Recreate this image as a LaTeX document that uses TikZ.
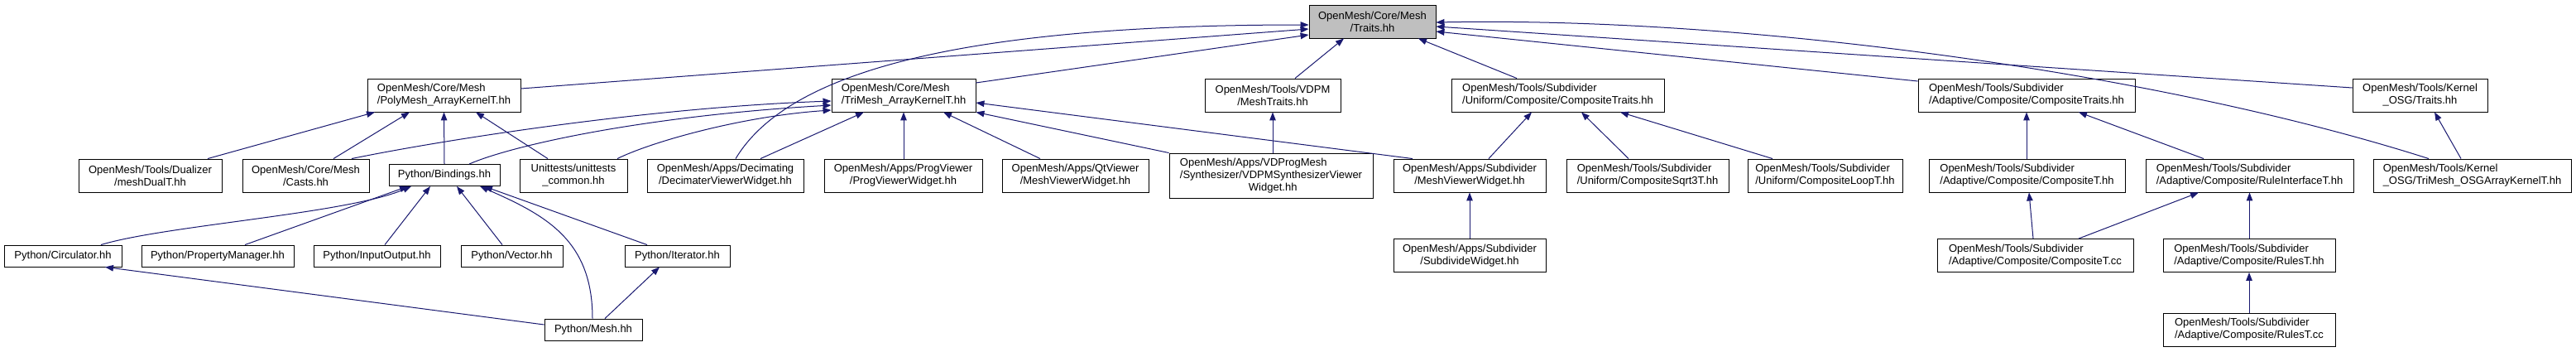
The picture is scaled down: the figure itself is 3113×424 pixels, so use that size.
\documentclass[tikz,border=0pt]{standalone}
\usepackage{fontspec}
\setmainfont{Liberation Sans}
\usetikzlibrary{arrows.meta}
\definecolor{midnightblue}{HTML}{191970}
\newcommand{\filefont}{\fontsize{13}{15}\selectfont}
\tikzset{
  dtip/.tip={Triangle[length=10pt,width=7.5pt]},
  file/.style={draw=black, fill=white, line width=0.9pt, inner sep=0pt, minimum height=40pt, font=\filefont, align=center},
  lfile/.style={file, align=left},
  curfile/.style={file, fill=gray!50},
  dep/.style={draw=midnightblue, line width=1pt, dtip-},
}
\begin{document}
\begin{tikzpicture}[x=1pt, y=-1pt]
  \fill[white] (0,0) rectangle (3113,424);
  \useasboundingbox (0,0) rectangle (3113,424);

  % the header itself
  \node[curfile, minimum width=153pt] (traits) at (1658.5,26) {OpenMesh/Core/Mesh\\/Traits.hh};

  % files including it directly
  \node[lfile, minimum width=185pt] (polymesh) at (536.5,115) {OpenMesh/Core/Mesh\\/PolyMesh\_ArrayKernelT.hh};
  \node[lfile, minimum width=174pt] (trimesh) at (1092,115) {OpenMesh/Core/Mesh\\/TriMesh\_ArrayKernelT.hh};
  \node[file, minimum width=164pt] (vdpmtraits) at (1538,115) {OpenMesh/Tools/VDPM\\/MeshTraits.hh};
  \node[lfile, minimum width=257pt] (unitraits) at (1882.5,115) {OpenMesh/Tools/Subdivider\\/Uniform/Composite/CompositeTraits.hh};
  \node[lfile, minimum width=262pt] (adatraits) at (2449,115) {OpenMesh/Tools/Subdivider\\/Adaptive/Composite/CompositeTraits.hh};
  \node[file, minimum width=163pt] (osgtraits) at (2924.5,115) {OpenMesh/Tools/Kernel\\\_OSG/Traits.hh};

  % second level
  \node[file, minimum width=173pt] (dualizer) at (181.5,212) {OpenMesh/Tools/Dualizer\\/meshDualT.hh};
  \node[file, minimum width=153pt] (casts) at (369.5,212) {OpenMesh/Core/Mesh\\/Casts.hh};
  \node[file, minimum width=134pt, minimum height=26pt] (bindings) at (537,211.5) {Python/Bindings.hh};
  \node[file, minimum width=130pt] (unittests) at (693,212) {Unittests/unittests\\\_common.hh};
  \node[file, minimum width=189pt] (decimater) at (876.5,212) {OpenMesh/Apps/Decimating\\/DecimaterViewerWidget.hh};
  \node[file, minimum width=191pt] (progviewer) at (1091.5,212) {OpenMesh/Apps/ProgViewer\\/ProgViewerWidget.hh};
  \node[file, minimum width=177pt] (qtviewer) at (1299.5,212) {OpenMesh/Apps/QtViewer\\/MeshViewerWidget.hh};
  \node[lfile, minimum width=246pt, minimum height=54pt] (vdprogmesh) at (1536,212) {OpenMesh/Apps/VDProgMesh\\/Synthesizer/VDPMSynthesizerViewer\\\hspace*{83pt}Widget.hh};
  \node[file, minimum width=184pt] (meshviewer) at (1776,212) {OpenMesh/Apps/Subdivider\\/MeshViewerWidget.hh};
  \node[lfile, minimum width=196pt] (sqrt3) at (1991,212) {OpenMesh/Tools/Subdivider\\/Uniform/CompositeSqrt3T.hh};
  \node[lfile, minimum width=187pt] (loop) at (2205.5,212) {OpenMesh/Tools/Subdivider\\/Uniform/CompositeLoopT.hh};
  \node[lfile, minimum width=237pt] (adacompT) at (2449.5,212) {OpenMesh/Tools/Subdivider\\/Adaptive/Composite/CompositeT.hh};
  \node[lfile, minimum width=251pt] (ruleiface) at (2718.5,212) {OpenMesh/Tools/Subdivider\\/Adaptive/Composite/RuleInterfaceT.hh};
  \node[lfile, minimum width=239pt] (osgkernel) at (2987.5,212) {OpenMesh/Tools/Kernel\\\_OSG/TriMesh\_OSGArrayKernelT.hh};

  % third level
  \node[file, minimum width=142pt, minimum height=26pt] (circulator) at (76,309) {Python/Circulator.hh};
  \node[file, minimum width=184pt, minimum height=26pt] (propmgr) at (263,309) {Python/PropertyManager.hh};
  \node[file, minimum width=153pt, minimum height=26pt] (inout) at (455.5,309) {Python/InputOutput.hh};
  \node[file, minimum width=123pt, minimum height=26pt] (vector) at (618.5,309) {Python/Vector.hh};
  \node[file, minimum width=127pt, minimum height=26pt] (iterator) at (818.5,309) {Python/Iterator.hh};
  \node[file, minimum width=184pt] (subdivide) at (1776,308.5) {OpenMesh/Apps/Subdivider\\/SubdivideWidget.hh};
  \node[lfile, minimum width=237pt] (compTcc) at (2459.5,308.5) {OpenMesh/Tools/Subdivider\\/Adaptive/Composite/CompositeT.cc};
  \node[lfile, minimum width=208pt] (rulesThh) at (2718,308.5) {OpenMesh/Tools/Subdivider\\/Adaptive/Composite/RulesT.hh};

  % bottom level
  \node[file, minimum width=118pt, minimum height=26pt] (pymesh) at (717,398) {Python/Mesh.hh};
  \node[lfile, minimum width=208pt] (rulesTcc) at (2718,398) {OpenMesh/Tools/Subdivider\\/Adaptive/Composite/RulesT.cc};

  % edges into Traits.hh
  \draw[dep] ([yshift=-9pt]traits.west) -- ([yshift=8pt]polymesh.east);
  \draw[dep] ([yshift=-16pt]traits.west) -- ([yshift=15pt]trimesh.east);
  \draw[dep] ([yshift=-4pt]traits.west) .. controls (1150,30) and (950,90) .. ([xshift=12.5pt]decimater.north);
  \draw[dep] ([xshift=-34.5pt]traits.south) -- ([xshift=27pt]vdpmtraits.north);
  \draw[dep] ([xshift=55.5pt]traits.south) -- ([xshift=-49.5pt]unitraits.north);
  \draw[dep] ([yshift=-12pt]traits.east) -- ([yshift=17pt]adatraits.west);
  \draw[dep] ([yshift=-6pt]traits.east) -- ([yshift=9pt]osgtraits.west);
  \draw[dep] ([yshift=-1pt]traits.east) .. controls (2100,20) and (2600,85) .. ([xshift=-52.5pt]osgkernel.north);

  % edges into PolyMesh_ArrayKernelT.hh
  \draw[dep] ([xshift=-83.5pt]polymesh.south) -- ([xshift=69.5pt]dualizer.north);
  \draw[dep] ([xshift=-41.5pt]polymesh.south) -- ([xshift=33.5pt]casts.north);
  \draw[dep] (polymesh.south) -- (bindings.north);
  \draw[dep] ([xshift=38.5pt]polymesh.south) -- ([xshift=-31pt]unittests.north);

  % edges into TriMesh_ArrayKernelT.hh
  \draw[dep] ([yshift=-7pt]trimesh.west) .. controls (780,130) and (530,170) .. ([xshift=55.5pt]casts.north);
  \draw[dep] ([yshift=-12pt]trimesh.west) .. controls (780,140) and (620,175) .. ([xshift=30pt]bindings.north);
  \draw[dep] ([yshift=-18pt]trimesh.west) .. controls (900,140) and (790,170) .. ([xshift=53pt]unittests.north);
  \draw[dep] ([xshift=-48pt]trimesh.south) -- ([xshift=42.5pt]decimater.north);
  \draw[dep] (trimesh.south) -- (trimesh.south |- progviewer.north);
  \draw[dep] ([xshift=48pt]trimesh.south) -- ([xshift=-42.5pt]qtviewer.north);
  \draw[dep] (trimesh.south east) -- (vdprogmesh.north west);
  \draw[dep] ([yshift=-9pt]trimesh.east) -- ([xshift=-69pt]meshviewer.north);

  % edges of the tools headers
  \draw[dep] (vdpmtraits.south) -- (vdpmtraits.south |- vdprogmesh.north);
  \draw[dep] ([xshift=-31.5pt]unitraits.south) -- ([xshift=23pt]meshviewer.north);
  \draw[dep] ([xshift=28.5pt]unitraits.south) -- ([xshift=-23pt]sqrt3.north);
  \draw[dep] ([xshift=75.5pt]unitraits.south) -- ([xshift=-63.5pt]loop.north);
  \draw[dep] (meshviewer.south) -- (subdivide.north);
  \draw[dep] (adatraits.south) -- (adatraits.south |- adacompT.north);
  \draw[dep] ([xshift=63pt]adatraits.south) -- ([xshift=-55.5pt]ruleiface.north);
  \draw[dep] ([xshift=2.5pt]adacompT.south) -- ([xshift=-2.5pt]compTcc.north);
  \draw[dep] ([xshift=-61.5pt]ruleiface.south) -- ([xshift=52.5pt]compTcc.north);
  \draw[dep] (ruleiface.south) -- (ruleiface.south |- rulesThh.north);
  \draw[dep] (rulesThh.south) -- (rulesTcc.north);
  \draw[dep] ([xshift=17.5pt]osgtraits.south) -- ([xshift=-13.5pt]osgkernel.north);

  % python bindings
  \draw[dep] ([xshift=-40pt]bindings.south) .. controls (420,258) and (200,272) .. ([xshift=46pt]circulator.north);
  \draw[dep] ([xshift=-44pt]bindings.south) -- ([xshift=33pt]propmgr.north);
  \draw[dep] ([xshift=-17pt]bindings.south) -- ([xshift=9.5pt]inout.north);
  \draw[dep] ([xshift=15pt]bindings.south) -- ([xshift=-11.5pt]vector.north);
  \draw[dep] ([xshift=43pt]bindings.south) .. controls (660,260) and (716,290) .. ([xshift=-1pt]pymesh.north);
  \draw[dep] ([xshift=48pt]bindings.south) -- ([xshift=-36.5pt]iterator.north);
  \draw[dep] ([xshift=51pt]circulator.south) -- ([yshift=6pt]pymesh.west);
  \draw[dep] ([xshift=-21.5pt]iterator.south) -- ([xshift=14pt]pymesh.north);
\end{tikzpicture}
\end{document}
